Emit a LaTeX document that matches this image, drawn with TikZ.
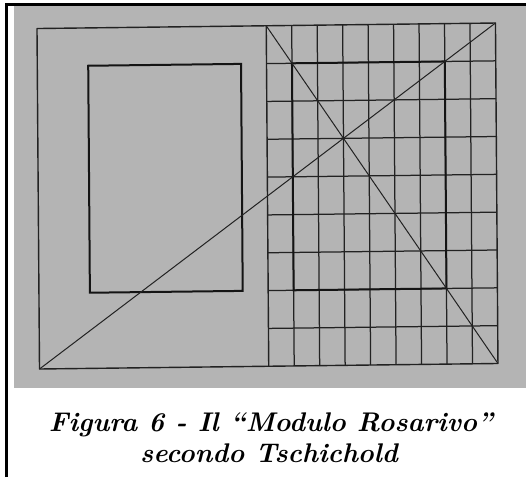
\documentclass[tikz,border=0pt]{standalone}
\usepackage{fontspec}
\definecolor{bggray}{RGB}{180,180,180}
\definecolor{ink}{RGB}{34,34,34}
\tikzset{
  gridline/.style={draw=ink,line width=1.25pt},
  frameline/.style={draw=ink,line width=1.4pt,line join=round},
  blockline/.style={draw=black!92,line width=2pt,line join=miter},
  diagline/.style={draw=ink,line width=1pt},
  captext/.style={font=\fontsize{27}{32}\selectfont\bfseries\itshape,inner sep=0pt,anchor=base}
}
\begin{document}
\begin{tikzpicture}[x=1pt,y=1pt]
\useasboundingbox (0,0) rectangle (526,477);
\fill[white] (0,0) rectangle (526,477);
\fill[bggray] (14,89) rectangle (526,471);
\draw[black,line width=3pt,line join=miter] (6.5,0) -- (6.5,472.5) -- (526,472.5);
\begin{scope}[shift={(39.5,108)},x={(25.47pt,0.306pt)},y={(-0.278pt,37.83pt)}]
  \foreach \i in {10,...,17} \draw[gridline] (\i,0) -- (\i,9);
  \foreach \j in {1,...,8} \draw[gridline] (9,\j) -- (18,\j);
  \draw[frameline] (9,0) -- (9,9);
  \draw[frameline] (0,0) -- (18,0) -- (18,9) -- (0,9) -- cycle;
  \draw[blockline] (2,2) -- (8,2) -- (8,8) -- (2,8) -- cycle;
  \draw[blockline] (10,2) -- (16,2) -- (16,8) -- (10,8) -- cycle;
  \draw[diagline] (0,0) -- (18,9);
  \draw[diagline] (9,9) -- (18,0);
\end{scope}
\node[captext] (cap1) at (271,46) {Figura 6 - Il “Modulo Rosarivo”};
\node[captext] (cap2) at (269,15) {secondo Tschichold};
\end{tikzpicture}
\end{document}
